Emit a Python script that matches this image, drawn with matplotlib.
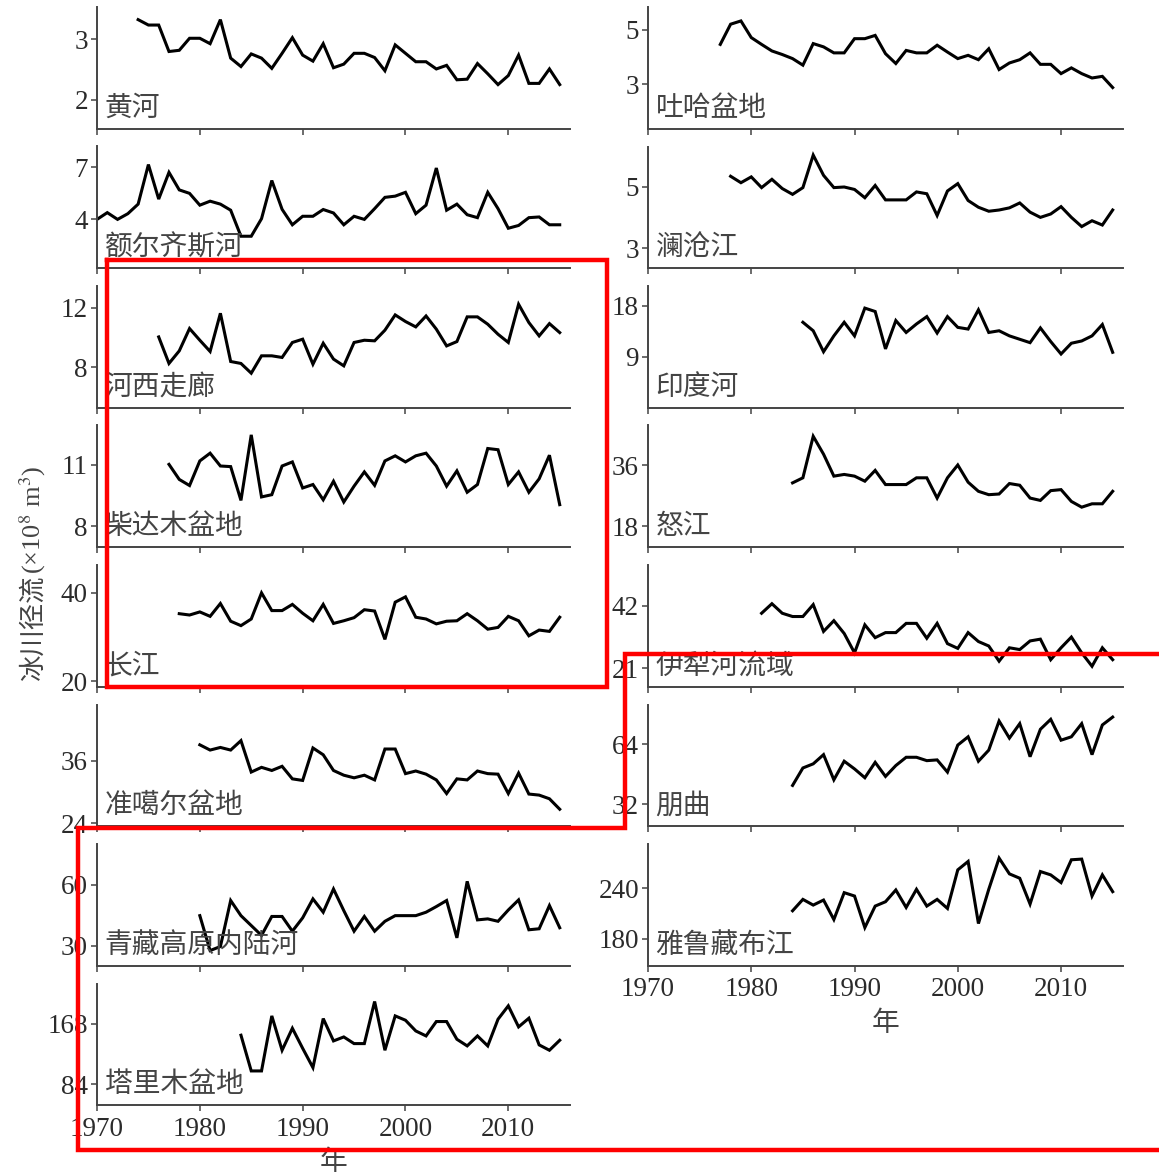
import numpy as np
import matplotlib
matplotlib.use("Agg")
import matplotlib.pyplot as plt
from matplotlib.lines import Line2D

plt.rcParams['font.family'] = ['Liberation Serif', 'Noto Sans CJK SC']
plt.rcParams['mathtext.fontset'] = 'stix'

W, H = 1159, 1176

# 各流域冰川径流 (×10^8 m^3)，起始年份 + 逐年序列
huanghe_start = 1974
huanghe = [3.33, 3.24, 3.24, 2.80, 2.82, 3.02, 3.02, 2.93, 3.33, 2.69,
           2.55, 2.76, 2.69, 2.52, 2.77, 3.03, 2.74, 2.64, 2.93, 2.53,
           2.59, 2.77, 2.77, 2.70, 2.48, 2.91, 2.77, 2.63, 2.63, 2.51,
           2.57, 2.33, 2.34, 2.60, 2.43, 2.25, 2.40, 2.74, 2.27, 2.27,
           2.51, 2.25]

eerqisi_start = 1970
eerqisi = [4.00, 4.39, 4.00, 4.33, 4.88, 7.16, 5.17, 6.71, 5.70, 5.50,
           4.82, 5.05, 4.88, 4.53, 3.03, 3.03, 4.04, 6.24, 4.58, 3.69,
           4.18, 4.18, 4.57, 4.37, 3.69, 4.18, 4.00, 4.62, 5.27, 5.34,
           5.56, 4.33, 4.82, 6.96, 4.53, 4.88, 4.27, 4.10, 5.56, 4.62,
           3.49, 3.65, 4.10, 4.14, 3.69, 3.69]

hexi_start = 1976
hexi = [10.04, 8.27, 9.11, 10.60, 9.82, 9.07, 11.62, 8.40, 8.27, 7.62,
        8.78, 8.78, 8.67, 9.67, 9.89, 8.22, 9.62, 8.56, 8.11, 9.67,
        9.82, 9.78, 10.49, 11.51, 11.07, 10.71, 11.44, 10.56, 9.44, 9.73,
        11.38, 11.38, 10.89, 10.22, 9.67, 12.22, 11.00, 10.11, 10.93, 10.33]

chaidamu_start = 1977
chaidamu = [11.03, 10.29, 9.99, 11.20, 11.58, 10.95, 10.92, 9.26, 12.48, 9.43,
            9.54, 10.95, 11.15, 9.87, 10.04, 9.29, 10.20, 9.18, 9.96, 10.66,
            10.00, 11.20, 11.45, 11.15, 11.45, 11.58, 10.95, 9.96, 10.71, 9.66,
            10.04, 11.81, 11.75, 10.04, 10.66, 9.66, 10.32, 11.48, 9.05]

changjiang_start = 1978
changjiang = [35.3, 35.0, 35.7, 34.7, 37.6, 33.6, 32.6, 34.1, 40.0, 36.0,
              36.0, 37.4, 35.4, 33.7, 37.4, 33.1, 33.7, 34.4, 36.2, 35.9,
              29.5, 37.9, 39.1, 34.5, 34.1, 33.0, 33.6, 33.7, 35.3, 33.7,
              31.8, 32.2, 34.7, 33.7, 30.3, 31.6, 31.3, 34.5]

zhungeer_start = 1980
zhungeer = [39.0, 38.0, 38.5, 38.0, 39.8, 33.8, 34.7, 34.1, 34.9, 32.5,
            32.2, 38.4, 37.1, 34.1, 33.2, 32.7, 33.2, 32.3, 38.2, 38.2,
            33.5, 34.0, 33.4, 32.3, 29.7, 32.5, 32.3, 34.0, 33.5, 33.4,
            29.7, 33.6, 29.6, 29.4, 28.7, 26.7]

qingzang_start = 1980
qingzang = [44.8, 27.5, 29.5, 52.3, 44.8, 39.9, 35.0, 44.4, 44.4, 37.1,
            43.7, 53.1, 46.5, 58.0, 47.3, 37.1, 44.4, 37.1, 42.0, 44.8,
            44.8, 44.8, 46.5, 49.3, 52.3, 33.8, 61.8, 42.7, 43.2, 42.0,
            47.6, 52.6, 37.8, 38.3, 49.8, 38.8]

talimu_start = 1984
talimu = [151.9, 102.5, 102.5, 178.6, 131.1, 161.5, 133.8, 107.1, 174.9, 144.0,
          149.5, 140.3, 140.3, 198.5, 131.1, 178.6, 172.6, 157.8, 150.9, 170.8,
          170.8, 146.3, 137.1, 150.9, 137.1, 174.0, 192.5, 163.4, 175.4, 138.5,
          131.1, 144.9]

tuha_start = 1977
tuha = [4.46, 5.20, 5.32, 4.71, 4.46, 4.22, 4.09, 3.94, 3.70, 4.49,
        4.37, 4.15, 4.15, 4.67, 4.67, 4.79, 4.12, 3.76, 4.24, 4.15,
        4.15, 4.43, 4.18, 3.94, 4.06, 3.90, 4.30, 3.54, 3.78, 3.90,
        4.15, 3.73, 3.73, 3.39, 3.60, 3.39, 3.23, 3.29, 2.88]

lancang_start = 1978
lancang = [5.35, 5.14, 5.33, 4.98, 5.25, 4.95, 4.76, 4.98, 6.04, 5.38,
           4.98, 5.00, 4.92, 4.65, 5.05, 4.58, 4.58, 4.58, 4.84, 4.78,
           4.07, 4.87, 5.11, 4.56, 4.34, 4.21, 4.25, 4.32, 4.48, 4.18,
           4.01, 4.12, 4.36, 4.01, 3.71, 3.90, 3.76, 4.25]

yindu_start = 1985
yindu = [15.1, 13.6, 9.9, 12.7, 15.1, 12.7, 17.6, 17.0, 10.4, 15.4,
         13.3, 14.8, 16.1, 13.2, 16.1, 14.2, 13.9, 17.3, 13.3, 13.6,
         12.7, 12.1, 11.5, 14.1, 11.7, 9.5, 11.4, 11.8, 12.7, 14.7,
         9.8]

nujiang_start = 1984
nujiang = [30.8, 32.3, 44.6, 39.3, 32.8, 33.3, 32.8, 31.3, 34.5, 30.3,
           30.3, 30.3, 32.3, 32.3, 26.3, 32.3, 36.1, 31.0, 28.3, 27.3,
           27.5, 30.6, 30.1, 26.3, 25.6, 28.5, 28.8, 25.3, 23.6, 24.6,
           24.6, 28.3]

yili_start = 1981
yili = [39.4, 42.6, 39.4, 38.3, 38.3, 42.3, 33.3, 36.9, 32.6, 26.1,
        35.5, 31.2, 32.9, 32.9, 36.0, 36.0, 31.0, 36.0, 29.2, 27.6,
        32.9, 29.9, 28.4, 23.3, 27.8, 27.2, 30.1, 30.7, 23.8, 27.8,
        31.4, 26.1, 21.6, 27.8, 23.8]

pengqu_start = 1984
pengqu = [42.0, 51.3, 53.5, 58.4, 45.0, 54.9, 50.8, 46.1, 54.3, 46.8,
          52.6, 57.0, 57.0, 55.2, 55.6, 49.1, 63.5, 67.9, 54.9, 60.8,
          76.3, 67.2, 74.9, 57.3, 71.9, 77.2, 66.1, 67.9, 74.9, 58.4,
          74.2, 78.4]

yarlung_start = 1984
yarlung = [213.2, 226.8, 220.0, 226.0, 202.8, 234.8, 230.8, 193.2, 218.8, 224.0,
           238.0, 217.2, 238.8, 218.8, 226.8, 216.0, 262.0, 272.0, 198.0, 238.8,
           276.0, 257.2, 252.0, 221.2, 260.0, 256.0, 246.8, 274.0, 274.8, 230.8,
           256.0, 236.0]

left_names = ['黄河', '额尔齐斯河', '河西走廊', '柴达木盆地', '长江',
              '准噶尔盆地', '青藏高原内陆河', '塔里木盆地']
left_series = [(huanghe_start, huanghe), (eerqisi_start, eerqisi),
               (hexi_start, hexi), (chaidamu_start, chaidamu),
               (changjiang_start, changjiang), (zhungeer_start, zhungeer),
               (qingzang_start, qingzang), (talimu_start, talimu)]
left_yticks = [[2, 3], [4, 7], [8, 12], [8, 11], [20, 40], [24, 36], [30, 60], [84, 168]]
left_ylims = [(1.52, 3.54), (1.2, 8.2), (5.33, 13.44), (6.97, 12.94),
              (18.85, 46.3), (23.5, 46.7), (20.1, 80.3), (55.4, 223.4)]

right_names = ['吐哈盆地', '澜沧江', '印度河', '怒江', '伊犁河流域', '朋曲', '雅鲁藏布江']
right_series = [(tuha_start, tuha), (lancang_start, lancang),
                (yindu_start, yindu), (nujiang_start, nujiang),
                (yili_start, yili), (pengqu_start, pengqu),
                (yarlung_start, yarlung)]
right_yticks = [[3, 5], [3, 5], [9, 18], [18, 36], [21, 42], [32, 64], [180, 240]]
right_ylims = [(1.38, 5.83), (2.36, 6.32), (0.06, 21.5), (11.8, 47.8),
               (14.8, 55.6), (20.4, 85.1), (148, 292.8)]

xticks = [1970, 1980, 1990, 2000, 2010]
INK = '#2b2b2b'
GREY = '#444444'

fig = plt.figure(figsize=(W / 100, H / 100), dpi=100)


def px_axes(x0, x1, top, height=121.5):
    return fig.add_axes([x0 / W, 1 - (top + height) / H, (x1 - x0) / W, height / H])


def draw_column(x0, x1, names, series, yticks, ylims):
    n = len(names)
    axes = []
    for i in range(n):
        ax = px_axes(x0, x1, 7 + 139.5 * i)
        start, vals = series[i]
        years = np.arange(start, start + len(vals))
        ax.plot(years, vals, color='black', lw=2.2, solid_joinstyle='miter')
        ax.set_xlim(1970, 2016)
        ax.set_ylim(*ylims[i])
        ax.set_yticks(yticks[i])
        ax.set_xticks(xticks)
        for s in ['top', 'right']:
            ax.spines[s].set_visible(False)
        for s in ['left', 'bottom']:
            ax.spines[s].set_linewidth(1.4)
            ax.spines[s].set_color(GREY)
        ax.tick_params(direction='out', length=4.5, width=1.1, color=GREY,
                       labelsize=19.5, labelcolor=INK, pad=2)
        ax.text(0.016, 0.17, names[i], transform=ax.transAxes, ha='left', va='center',
                fontsize=20, color=GREY, family=['Noto Sans CJK SC'])
        if i < n - 1:
            ax.set_xticklabels([])
        else:
            ax.tick_params(axis='x', pad=4)
            ax.set_xlabel('年', fontsize=20, color=GREY, labelpad=4,
                          family=['Noto Sans CJK SC'])
        axes.append(ax)
    return axes


draw_column(97, 570, left_names, left_series, left_yticks, left_ylims)
draw_column(648, 1123, right_names, right_series, right_yticks, right_ylims)

# 纵轴标题：中文部分与单位部分分开绘制，单位接在中文之后
ylab_cn = fig.text(33 / W, 1 - 680 / H, '冰川径流', rotation=90, ha='center', va='bottom',
                   fontsize=19, color=GREY, family=['Noto Sans CJK SC'])
fig.canvas.draw()
bb = ylab_cn.get_window_extent()
fig.text(33 / W, bb.y1 / H, '(×10$^{8}$ m$^{3}$)', rotation=90, ha='center', va='bottom',
         fontsize=19, color=GREY)


# 红色标注框（像素坐标）
def red_path(pts):
    xs = [p[0] / W for p in pts]
    ys = [1 - p[1] / H for p in pts]
    fig.add_artist(Line2D(xs, ys, color='#ff0000', lw=3.2, transform=fig.transFigure,
                          solid_joinstyle='miter', zorder=10))


red_path([(107, 260), (607, 260), (607, 687), (107, 687), (107, 260)])
red_path([(1170, 654), (625, 654), (625, 828), (78, 828), (78, 1150), (1170, 1150)])

fig.savefig('out.png', dpi=100)
